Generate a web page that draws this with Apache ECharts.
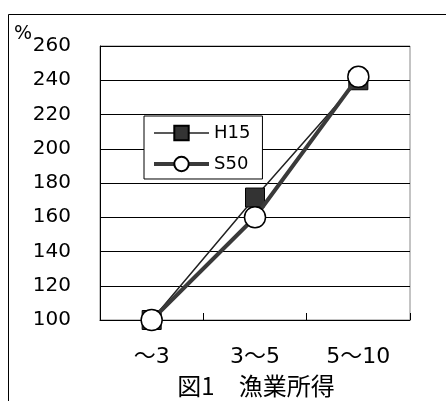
<!DOCTYPE html>
<html><head><meta charset="utf-8">
<script src="https://cdn.jsdelivr.net/npm/echarts@6/dist/echarts.min.js"></script>
<style>html,body{margin:0;padding:0;background:#fff}#c{width:446px;height:401px}</style>
</head><body><div id="c"></div>
<script>
var categories = ['～3', '3～5', '5～10'];
var seriesH15 = [100, 171.5, 240];
var seriesS50 = [100, 160, 242];
var yTicks = {min: 100, max: 260, interval: 20};
var titleText = '図1　漁業所得';
var unitText = '%';

var DV = '"DejaVu Sans", "Noto Sans CJK JP", sans-serif';
var CJK = '"Noto Sans CJK JP", sans-serif';
var chart = echarts.init(document.getElementById('c'), null, {renderer: 'canvas'});
chart.setOption({
  animation: false,
  backgroundColor: '#fff',
  grid: {left: 100, right: 36, top: 46, bottom: 81, show: true, borderColor: '#888', borderWidth: 1, backgroundColor: 'transparent'},
  xAxis: {
    type: 'category', data: categories, boundaryGap: true,
    axisLine: {lineStyle: {color: '#000', width: 1}},
    axisTick: {show: true, inside: true, length: 7, lineStyle: {color: '#000'}},
    axisLabel: {color: '#000', fontSize: 22, fontFamily: DV, margin: 26},
    splitLine: {show: false}
  },
  yAxis: {
    type: 'value', min: yTicks.min, max: yTicks.max, interval: yTicks.interval,
    axisLine: {show: true, lineStyle: {color: '#000', width: 1}},
    axisTick: {show: true, inside: true, length: 7, lineStyle: {color: '#000'}},
    axisLabel: {color: '#000', fontSize: 20, fontFamily: DV, margin: 29},
    splitLine: {show: true, lineStyle: {color: '#000', width: 1}}
  },
  legend: {
    left: 144, top: 116, orient: 'vertical',
    backgroundColor: '#fff', borderColor: '#000', borderWidth: 1,
    padding: [8, 12, 6, 8], itemGap: 13, itemWidth: 55, itemHeight: 18,
    textStyle: {color: '#000', fontSize: 18, fontFamily: DV},
    data: [
      {name: 'H15', lineStyle: {width: 1.5}},
      {name: 'S50', lineStyle: {width: 4}}
    ]
  },
  series: [
    {name: 'H15', type: 'line', data: seriesH15, symbol: 'rect', symbolSize: 19,
     lineStyle: {color: '#222', width: 1.5},
     itemStyle: {color: '#333', borderColor: '#000', borderWidth: 1}, z: 2},
    {name: 'S50', type: 'line', data: seriesS50, symbol: 'circle', symbolSize: 21,
     lineStyle: {color: '#3a3a3a', width: 4},
     itemStyle: {color: '#fff', borderColor: '#000', borderWidth: 1.5}, z: 3}
  ],
  graphic: [
    {type: 'rect', shape: {x: 8.5, y: 14.5, width: 460, height: 420}, style: {fill: 'none', stroke: '#000', lineWidth: 1}, z: -10, silent: true},
    {type: 'text', x: 14, y: 25, style: {text: unitText, fontSize: 19, fontFamily: DV, fill: '#000'}},
    {type: 'text', x: 256, y: 386, style: {text: titleText, fontSize: 24, fontFamily: CJK, fill: '#000', align: 'center', verticalAlign: 'middle'}}
  ]
});
</script></body></html>
